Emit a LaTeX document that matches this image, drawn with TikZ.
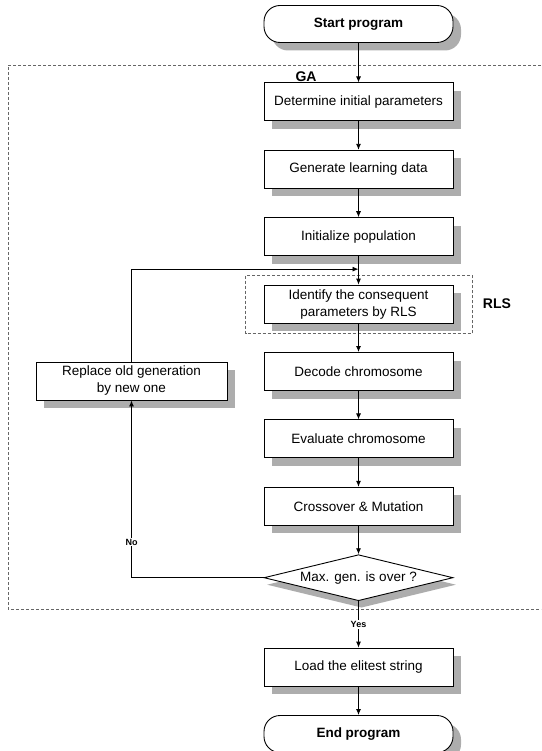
\documentclass[tikz,border=0pt]{standalone}
\usepackage{fontspec}
\setmainfont{Liberation Sans}
\usetikzlibrary{arrows.meta,positioning,shapes.geometric,shadows}

\begin{document}
\begin{tikzpicture}[
x=1pt, y=-1pt,
node distance=28.5pt,
font=\fontsize{13.5}{17}\selectfont,
boxshadow/.style={drop shadow={shadow xshift=8pt, shadow yshift=-8pt, fill=black!32, opacity=1}},
box/.style={draw, line width=0.9pt, fill=white, align=center, minimum width=189pt, minimum height=38pt, boxshadow},
term/.style={box, rounded corners=16pt, minimum height=37pt, font=\fontsize{13.5}{17}\selectfont\bfseries},
cond/.style={draw, diamond, aspect=4, inner sep=0pt, line width=0.9pt, fill=white, minimum width=189pt, minimum height=46pt, drop shadow={shadow xshift=3pt, shadow yshift=-7pt, fill=black!32, opacity=1}},
arr/.style={-{Latex[length=6pt,width=5pt]}, line width=0.9pt},
grp/.style={densely dashed, black!60, line width=0.7pt},
tag/.style={font=\fontsize{14}{14}\selectfont\bfseries},
yn/.style={font=\fontsize{9}{9}\selectfont\bfseries, fill=white, inner sep=1pt}
]
\useasboundingbox (0,0) rectangle (541,751);
\draw[grp] (541,65) -- (8,65) -- (8,609) -- (541,609);
\node[tag] (gatag) at (306,77) {GA};
\node[term] (start) at (358.5,24) {Start program};
\node[box, below=39.5pt of start] (param) {Determine initial parameters};
\node[box, below=of param] (learn) {Generate learning data};
\node[box, below=of learn] (pop) {Initialize population};
\node[box, below=of pop] (ident) {Identify the consequent\\parameters by RLS};
\node[box, below=of ident] (decode) {Decode chromosome};
\node[box, below=of decode] (eval) {Evaluate chromosome};
\node[box, below=of eval] (cross) {Crossover \& Mutation};
\node[cond, below=of cross] (maxgen) {Max. gen. is over ?};
\node[box, below=46.5pt of maxgen] (load) {Load the elitest string};
\node[term, below=of load] (stop) {End program};
\node[box, minimum width=191pt] (replace) at (131.5,381) {Replace old generation\\by new one};
\draw[grp] ([xshift=-18pt,yshift=9pt]ident.north west) rectangle ([xshift=19pt,yshift=-10pt]ident.south east);
\node[tag, right=26pt of ident] (rlstag) {RLS};
\coordinate[below=13pt of pop] (back);
\draw[arr] (start) -- (param);
\draw[arr] (param) -- (learn);
\draw[arr] (learn) -- (pop);
\draw[arr] (pop) -- (ident);
\draw[arr] (ident) -- (decode);
\draw[arr] (decode) -- (eval);
\draw[arr] (eval) -- (cross);
\draw[arr] (cross) -- (maxgen);
\draw[arr] (maxgen) -- node[yn] {Yes} (load);
\draw[arr] (load) -- (stop);
\draw[arr] (maxgen.west) -| node[yn, pos=0.6] {No} (replace.south);
\draw[arr] (replace.north) |- (back);
\end{tikzpicture}
\end{document}
